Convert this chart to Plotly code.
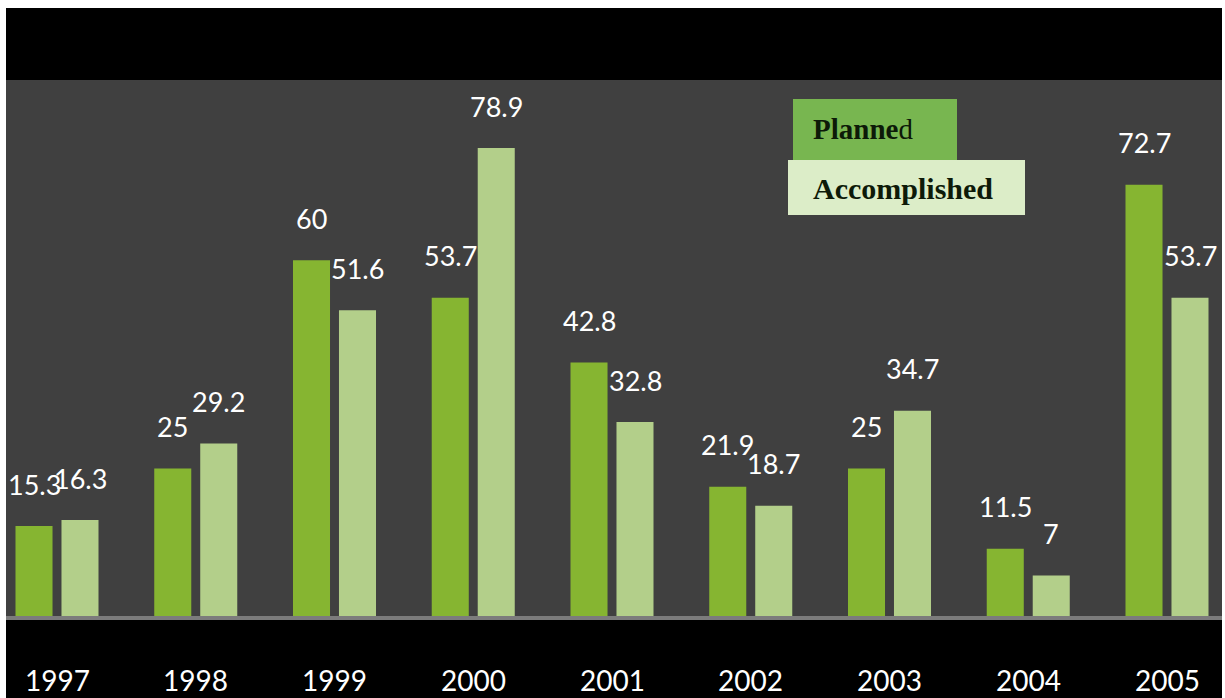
import plotly.graph_objects as go

years = ["1997", "1998", "1999", "2000", "2001", "2002", "2003", "2004", "2005"]
planned = [15.3, 25, 60, 53.7, 42.8, 21.9, 25, 11.5, 72.7]
accomplished = [16.3, 29.2, 51.6, 78.9, 32.8, 18.7, 34.7, 7, 53.7]
series_names = ["Planned", "Accomplished"]

W, H = 1225, 698
L, R, T, B = 6, 3, 80, 81
PW, PH = W - L - R, H - T - B


def px_x(p):
    return (p - L) / PW


def px_y(p):
    return (H - B - p) / PH


xs = list(range(len(years)))
fig = go.Figure()
fig.add_bar(x=xs, y=planned, name=series_names[0],
            marker=dict(color="#86b531", line=dict(width=0)))
fig.add_bar(x=xs, y=accomplished, name=series_names[1],
            marker=dict(color="#b3cf8a", line=dict(width=0)))

ann = []
slot = 0.3315
for i in xs:
    for off, vals in ((-slot / 2, planned), (slot / 2, accomplished)):
        v = vals[i]
        ann.append(dict(x=i + off, y=v, xref="x", yref="y", text=f"{v:g}",
                        showarrow=False, yshift=42, yanchor="middle",
                        font=dict(family="Lato", size=27, color="white")))
    ann.append(dict(x=i, y=px_y(680), xref="x", yref="paper", text=years[i],
                    showarrow=False, yanchor="middle",
                    font=dict(family="Lato", size=28, color="white")))

# legend-like labels
ann.append(dict(x=px_x(811), y=px_y(129), xref="paper", yref="paper",
                text="<b>Planne</b>d", showarrow=False, xanchor="left", yanchor="middle",
                font=dict(family="Liberation Serif", size=29, color="#0d1a08")))
ann.append(dict(x=px_x(811), y=px_y(188), xref="paper", yref="paper",
                text="<b>Accomplished</b>", showarrow=False, xanchor="left", yanchor="middle",
                font=dict(family="Liberation Serif", size=30, color="#0d1a08")))

shapes = [
    dict(type="rect", xref="paper", yref="paper", x0=0, x1=1, y0=1, y1=px_y(8),
         fillcolor="black", line=dict(width=0), layer="below"),
    dict(type="rect", xref="paper", yref="paper", x0=0, x1=1, y0=px_y(620), y1=px_y(700),
         fillcolor="black", line=dict(width=0), layer="below"),
    dict(type="rect", xref="paper", yref="paper", x0=0, x1=1, y0=px_y(616), y1=px_y(620),
         fillcolor="#7c7c7c", line=dict(width=0), layer="above"),
    dict(type="rect", xref="paper", yref="paper", x0=px_x(793), x1=px_x(957),
         y0=px_y(160), y1=px_y(99), fillcolor="#78b650", line=dict(width=0)),
    dict(type="rect", xref="paper", yref="paper", x0=px_x(788), x1=px_x(1025),
         y0=px_y(215), y1=px_y(160), fillcolor="#dcedc8", line=dict(width=0)),
]

fig.update_layout(
    width=W, height=H,
    margin=dict(l=L, r=R, t=T, b=B),
    paper_bgcolor="white",
    plot_bgcolor="#404040",
    barmode="group", bargap=0.337, bargroupgap=0.195,
    showlegend=False,
    xaxis=dict(range=[(L - 57) / 138.75, (W - R - 57) / 138.75], showticklabels=False,
               showgrid=False, zeroline=False, fixedrange=True),
    yaxis=dict(range=[0, PH / 5.944], showticklabels=False, showgrid=False,
               zeroline=False, fixedrange=True),
    annotations=ann,
    shapes=shapes,
)

fig.write_html("out.html", config={"displayModeBar": False},
               post_script="document.body.style.margin='0';document.body.style.overflow='hidden';")
